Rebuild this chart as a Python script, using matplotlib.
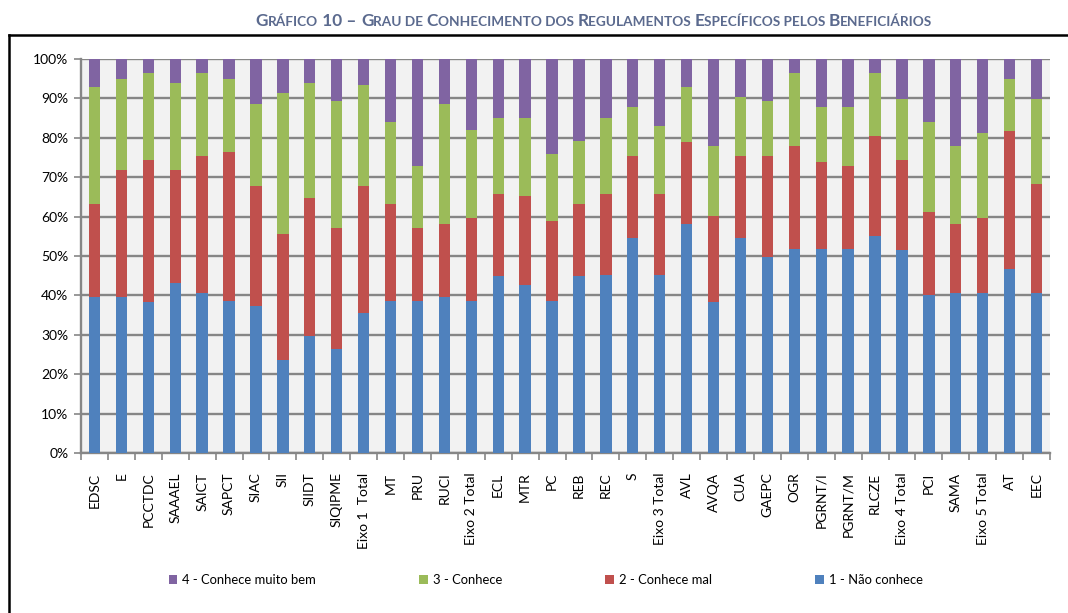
import numpy as np
import matplotlib
matplotlib.use("Agg")
import matplotlib.pyplot as plt
from matplotlib.lines import Line2D
from matplotlib.patches import Patch

plt.rcParams['font.family'] = ['Lato', 'DejaVu Sans']

categorias = ['EDSC', 'E', 'PCCTDC', 'SAAAEL', 'SAICT', 'SAPCT', 'SIAC', 'SII',
              'SIIDT', 'SIQIPME', 'Eixo 1  Total', 'MT', 'PRU', 'RUCI',
              'Eixo 2 Total', 'ECL', 'MTR', 'PC', 'REB', 'REC', 'S',
              'Eixo 3 Total', 'AVL', 'AVQA', 'CUA', 'GAEPC', 'OGR', 'PGRNT/I',
              'PGRNT/M', 'RLCZE', 'Eixo 4 Total', 'PCI', 'SAMA', 'Eixo 5 Total',
              'AT', 'EEC']

# percentagens por nível de conhecimento
nao_conhece = [39.7, 39.7, 38.2, 43.2, 40.7, 38.7, 37.2, 23.7, 29.6, 26.4, 35.6,
               38.7, 38.7, 39.7, 38.7, 44.8, 42.7, 38.7, 44.8, 45.3, 54.5, 45.3,
               58.1, 38.2, 54.5, 49.8, 51.9, 51.9, 51.9, 55.0, 51.4, 40.1, 40.6,
               40.6, 46.8, 40.6]
conhece_mal = [23.5, 32.1, 36.2, 28.6, 34.6, 37.7, 30.5, 31.8, 35.1, 30.6, 32.1,
               24.5, 18.3, 18.4, 20.9, 20.9, 22.5, 20.3, 18.4, 20.4, 20.8, 20.4,
               20.8, 21.9, 20.8, 25.5, 26.1, 21.9, 21.0, 25.5, 23.0, 21.0, 17.5,
               19.0, 34.8, 27.6]
conhece = [29.7, 23.1, 22.1, 22.1, 21.2, 18.5, 21.0, 35.9, 29.2, 32.3, 25.7,
           20.9, 15.9, 30.6, 22.5, 19.4, 19.9, 17.0, 15.9, 19.4, 12.5, 17.4,
           14.0, 17.9, 15.0, 14.0, 18.5, 14.0, 14.9, 16.0, 15.4, 23.0, 19.9,
           21.5, 13.3, 21.6]
conhece_muito_bem = [7.1, 5.1, 3.5, 6.1, 3.5, 5.1, 11.3, 8.6, 6.1, 10.7, 6.6,
                     15.9, 27.1, 11.3, 17.9, 14.9, 14.9, 24.0, 20.9, 14.9, 12.2,
                     16.9, 7.1, 22.0, 9.7, 10.7, 3.5, 12.2, 12.2, 3.5, 10.2,
                     15.9, 22.0, 18.9, 5.1, 10.2]

series = [('1 - Não conhece', nao_conhece, '#4F81BD'),
          ('2 - Conhece mal', conhece_mal, '#C0504D'),
          ('3 - Conhece', conhece, '#9BBB59'),
          ('4 - Conhece muito bem', conhece_muito_bem, '#8064A2')]

W, H = 1068, 613
fig = plt.figure(figsize=(W / 100, H / 100), dpi=100)
ax = fig.add_axes([81 / W, 1 - 453 / H, 969 / W, 394 / H])
ax.set_facecolor('#F2F2F2')

x = np.arange(len(categorias))
base = np.zeros(len(categorias))
handles = []
for nome, vals, cor in series:
    vals = np.array(vals)
    ax.bar(x, vals, width=0.42, bottom=base, color=cor, edgecolor='none', zorder=3)
    base += vals
    handles.append(Patch(facecolor=cor, label=nome))

ax.set_xlim(-0.5, len(categorias) - 0.5)
ax.set_ylim(0, 100)
ax.set_yticks(np.arange(0, 101, 10))
ax.set_yticklabels([f'{v}%' for v in range(0, 101, 10)], fontsize=10)
ax.yaxis.grid(True, color='#868686', linewidth=1.7, zorder=1)
ax.tick_params(axis='y', length=5, color='#868686', width=1.2, pad=4)

ax.set_xticks(x)
ax.set_xticklabels(categorias, rotation=90, fontsize=10, va='top')
ax.set_xticks(np.arange(-0.5, len(categorias), 1), minor=True)
ax.tick_params(axis='x', which='major', length=0, pad=14)
ax.tick_params(axis='x', which='minor', length=5, color='#868686', width=1.2)

for s in ['top', 'right']:
    ax.spines[s].set_visible(False)
for s in ['left', 'bottom']:
    ax.spines[s].set_color('#868686')
    ax.spines[s].set_linewidth(1.7)

leg = fig.legend(handles=handles[::-1], loc='center', bbox_to_anchor=(0.511, 1 - 580 / H),
                 ncol=4, frameon=False, fontsize=9.4, handlelength=0.65,
                 handleheight=0.65, handletextpad=0.4, columnspacing=7.9)

# moldura
fig.add_artist(Line2D([9 / W, 1], [1 - 35 / H, 1 - 35 / H], color='black', linewidth=1.8))
fig.add_artist(Line2D([9 / W, 9 / W], [0, 1 - 35 / H], color='black', linewidth=1.8))

# título em versaletes
partes = [('G', 1), ('RÁFICO', 0), (' 10 – ', 1), ('G', 1), ('RAU DE ', 0),
          ('C', 1), ('ONHECIMENTO DOS ', 0), ('R', 1), ('EGULAMENTOS ', 0),
          ('E', 1), ('SPECÍFICOS PELOS ', 0), ('B', 1), ('ENEFICIÁRIOS', 0)]
cor_tit = '#5B6A8E'
r = fig.canvas.get_renderer()
textos = []
for t, grande in partes:
    txt = fig.text(0, 1 - 26 / H, t, fontsize=12.4 if grande else 9.8, fontweight='bold',
                   color=cor_tit, va='baseline', ha='left')
    textos.append(txt)
larguras = [tx.get_window_extent(r).width for tx in textos]
pos = 594 - sum(larguras) / 2
for tx, w in zip(textos, larguras):
    tx.set_x(pos / W)
    pos += w

fig.savefig('out.png', dpi=100)
